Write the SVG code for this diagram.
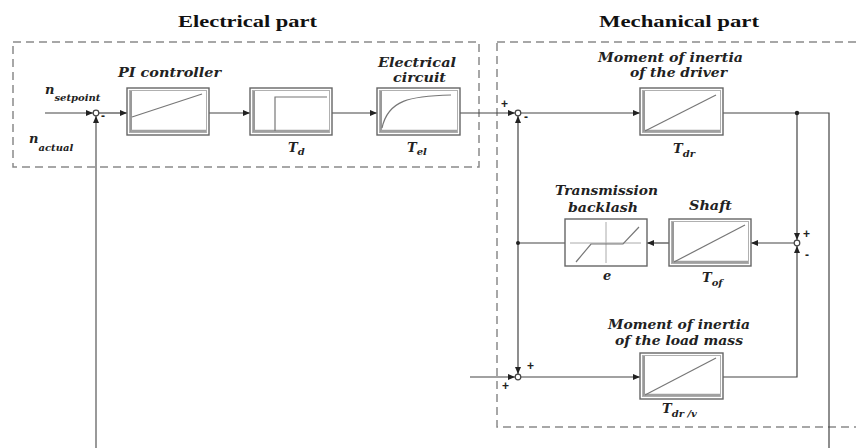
<svg xmlns="http://www.w3.org/2000/svg" width="856" height="448" viewBox="0 0 856 448">
<style>
.frame{fill:none;stroke:#8a8a8a;stroke-width:1.5;stroke-dasharray:8 5}
.title{font-family:"Liberation Serif",serif;font-weight:bold;font-size:16px;fill:#111}
.lbl{font-family:"DejaVu Serif","Liberation Serif",serif;font-weight:bold;font-style:italic;font-size:13px;fill:#222}
.sub{font-size:10px}
.sign{font-family:"Liberation Sans",sans-serif;font-weight:bold;font-size:12px;fill:#222}
.box{fill:#fff;stroke:#666;stroke-width:1.4}
.inner{fill:none;stroke:#b0b0b0;stroke-width:1}
.axv{stroke:#777;stroke-width:1.5}
.axh{stroke:#a0a0a0;stroke-width:2.5}
.curve{fill:none;stroke:#777;stroke-width:1.2}
.wire{fill:none;stroke:#444;stroke-width:1.2}
.fb{fill:none;stroke:#999;stroke-width:2}
.sum{fill:#fff;stroke:#444;stroke-width:1.2}
</style>
<defs>
<marker id="arr" markerUnits="userSpaceOnUse" markerWidth="8" markerHeight="6" refX="7" refY="3" orient="auto">
<path d="M0,0 L7,3 L0,6 z" fill="#222"/>
</marker>
</defs>
<rect width="856" height="448" fill="#fff"/>
<g id="frames">
<rect class="frame" x="13" y="42" width="466" height="125"/>
<rect class="frame" x="497" y="42" width="380" height="385"/>
<text class="title" x="178" y="27" textLength="139" lengthAdjust="spacingAndGlyphs">Electrical part</text>
<text class="title" x="599" y="27" textLength="160" lengthAdjust="spacingAndGlyphs">Mechanical part</text>
</g>
<g id="connectors">
<line class="wire" x1="45" y1="113" x2="93" y2="113" marker-end="url(#arr)"/>
<line class="fb" x1="96" y1="448" x2="96" y2="116" marker-end="url(#arr)"/>
<line class="wire" x1="99" y1="113" x2="127" y2="113" marker-end="url(#arr)"/>
<line class="wire" x1="209" y1="113" x2="250" y2="113" marker-end="url(#arr)"/>
<line class="wire" x1="332" y1="113" x2="377" y2="113" marker-end="url(#arr)"/>
<line class="wire" x1="460" y1="113" x2="515" y2="113" marker-end="url(#arr)"/>
<line class="wire" x1="521" y1="113" x2="640" y2="113" marker-end="url(#arr)"/>
<polyline class="wire" points="723,113 829,113 829,448"/>
<line class="wire" x1="797" y1="113" x2="797" y2="240" marker-end="url(#arr)"/>
<polyline class="wire" points="723,377 797,377 797,246" marker-end="url(#arr)"/>
<line class="wire" x1="794" y1="243" x2="751" y2="243" marker-end="url(#arr)"/>
<line class="wire" x1="669" y1="243" x2="647" y2="243" marker-end="url(#arr)"/>
<line class="wire" x1="565" y1="243" x2="518" y2="243"/>
<line class="wire" x1="518" y1="243" x2="518" y2="116" marker-end="url(#arr)"/>
<line class="wire" x1="518" y1="243" x2="518" y2="374" marker-end="url(#arr)"/>
<line class="wire" x1="470" y1="377" x2="515" y2="377" marker-end="url(#arr)"/>
<line class="wire" x1="521" y1="377" x2="640" y2="377" marker-end="url(#arr)"/>
<circle cx="797" cy="113" r="2.2" fill="#222"/>
<circle cx="518" cy="243" r="2" fill="#222"/>
</g>
<g id="sum1">
<circle class="sum" cx="96" cy="113" r="2.8"/>
<text class="sign" x="101" y="120">-</text>
</g>
<g id="sum2">
<circle class="sum" cx="518" cy="113" r="2.8"/>
<text class="sign" x="501" y="108">+</text>
<text class="sign" x="524" y="121">-</text>
</g>
<g id="sum3">
<circle class="sum" cx="797" cy="243" r="2.8"/>
<text class="sign" x="803" y="238">+</text>
<text class="sign" x="805" y="259">-</text>
</g>
<g id="sum4">
<circle class="sum" cx="518" cy="377" r="2.8"/>
<text class="sign" x="527" y="370">+</text>
<text class="sign" x="502" y="390">+</text>
</g>
<g id="inputs">
<text class="lbl" x="45" y="94">n<tspan class="sub" dy="7">setpoint</tspan></text>
<text class="lbl" x="29" y="143">n<tspan class="sub" dy="8">actual</tspan></text>
</g>
<g id="pi">
<text class="lbl" x="118" y="77" textLength="103" lengthAdjust="spacingAndGlyphs">PI controller</text>
<rect class="box" x="127" y="88" width="82" height="47"/>
<rect class="inner" x="129.5" y="90.5" width="77" height="42"/>
<line class="axv" x1="131" y1="91" x2="131" y2="132"/>
<line class="axh" x1="131" y1="131" x2="206" y2="131"/>
<line class="curve" x1="132" y1="117" x2="202" y2="94"/>
</g>
<g id="td">
<rect class="box" x="250" y="88" width="82" height="47"/>
<rect class="inner" x="252.5" y="90.5" width="77" height="42"/>
<line class="axv" x1="254" y1="91" x2="254" y2="132"/>
<line class="axh" x1="254" y1="131" x2="329" y2="131"/>
<polyline class="curve" points="275,131 275,97 327,97"/>
<text class="lbl" x="288" y="152">T<tspan class="sub" dy="3">d</tspan></text>
</g>
<g id="tel">
<text class="lbl" x="378" y="67" textLength="78" lengthAdjust="spacingAndGlyphs">Electrical</text>
<text class="lbl" x="393" y="82" textLength="53" lengthAdjust="spacingAndGlyphs">circuit</text>
<rect class="box" x="377" y="88" width="83" height="47"/>
<rect class="inner" x="379.5" y="90.5" width="78" height="42"/>
<line class="axv" x1="381" y1="91" x2="381" y2="132"/>
<line class="axh" x1="381" y1="131" x2="457" y2="131"/>
<path class="curve" d="M382,128 C388,100 410,96 451,95"/>
<text class="lbl" x="407" y="152">T<tspan class="sub" dy="3">el</tspan></text>
</g>
<g id="driver">
<text class="lbl" x="598" y="62" textLength="145" lengthAdjust="spacingAndGlyphs">Moment of inertia</text>
<text class="lbl" x="630" y="77" textLength="97" lengthAdjust="spacingAndGlyphs">of the driver</text>
<rect class="box" x="640" y="88" width="83" height="47"/>
<rect class="inner" x="642.5" y="90.5" width="78" height="42"/>
<line class="axv" x1="644" y1="91" x2="644" y2="132"/>
<line class="axh" x1="644" y1="131" x2="720" y2="131"/>
<line class="curve" x1="645" y1="131" x2="716" y2="95"/>
<text class="lbl" x="673" y="153">T<tspan class="sub" dy="4">dr</tspan></text>
</g>
<g id="shaft">
<text class="lbl" x="689" y="210" textLength="43" lengthAdjust="spacingAndGlyphs">Shaft</text>
<rect class="box" x="669" y="219" width="82" height="47"/>
<rect class="inner" x="671.5" y="221.5" width="77" height="42"/>
<line class="axv" x1="673" y1="222" x2="673" y2="263"/>
<line class="axh" x1="673" y1="262" x2="748" y2="262"/>
<line class="curve" x1="674" y1="262" x2="745" y2="225"/>
<text class="lbl" x="702" y="282">T<tspan class="sub" dy="4">of</tspan></text>
</g>
<g id="backlash">
<text class="lbl" x="555" y="195" textLength="103" lengthAdjust="spacingAndGlyphs">Transmission</text>
<text class="lbl" x="568" y="212" textLength="70" lengthAdjust="spacingAndGlyphs">backlash</text>
<rect class="box" x="565" y="219" width="82" height="47"/>
<line x1="570" y1="243" x2="641" y2="243" stroke="#aaa" stroke-width="1"/>
<line x1="606" y1="222" x2="606" y2="263" stroke="#aaa" stroke-width="1"/>
<polyline class="curve" points="576,262 591,244 623,244 639,227"/>
<text class="lbl" x="603" y="280">e</text>
</g>
<g id="load">
<text class="lbl" x="608" y="329" textLength="142" lengthAdjust="spacingAndGlyphs">Moment of inertia</text>
<text class="lbl" x="615" y="345" textLength="128" lengthAdjust="spacingAndGlyphs">of the load mass</text>
<rect class="box" x="640" y="353" width="83" height="46"/>
<rect class="inner" x="642.5" y="355.5" width="78" height="41"/>
<line class="axv" x1="644" y1="356" x2="644" y2="396"/>
<line class="axh" x1="644" y1="395" x2="720" y2="395"/>
<line class="curve" x1="645" y1="395" x2="716" y2="358"/>
<text class="lbl" x="662" y="413">T<tspan class="sub" dy="4">dr /v</tspan></text>
</g>
</svg>
